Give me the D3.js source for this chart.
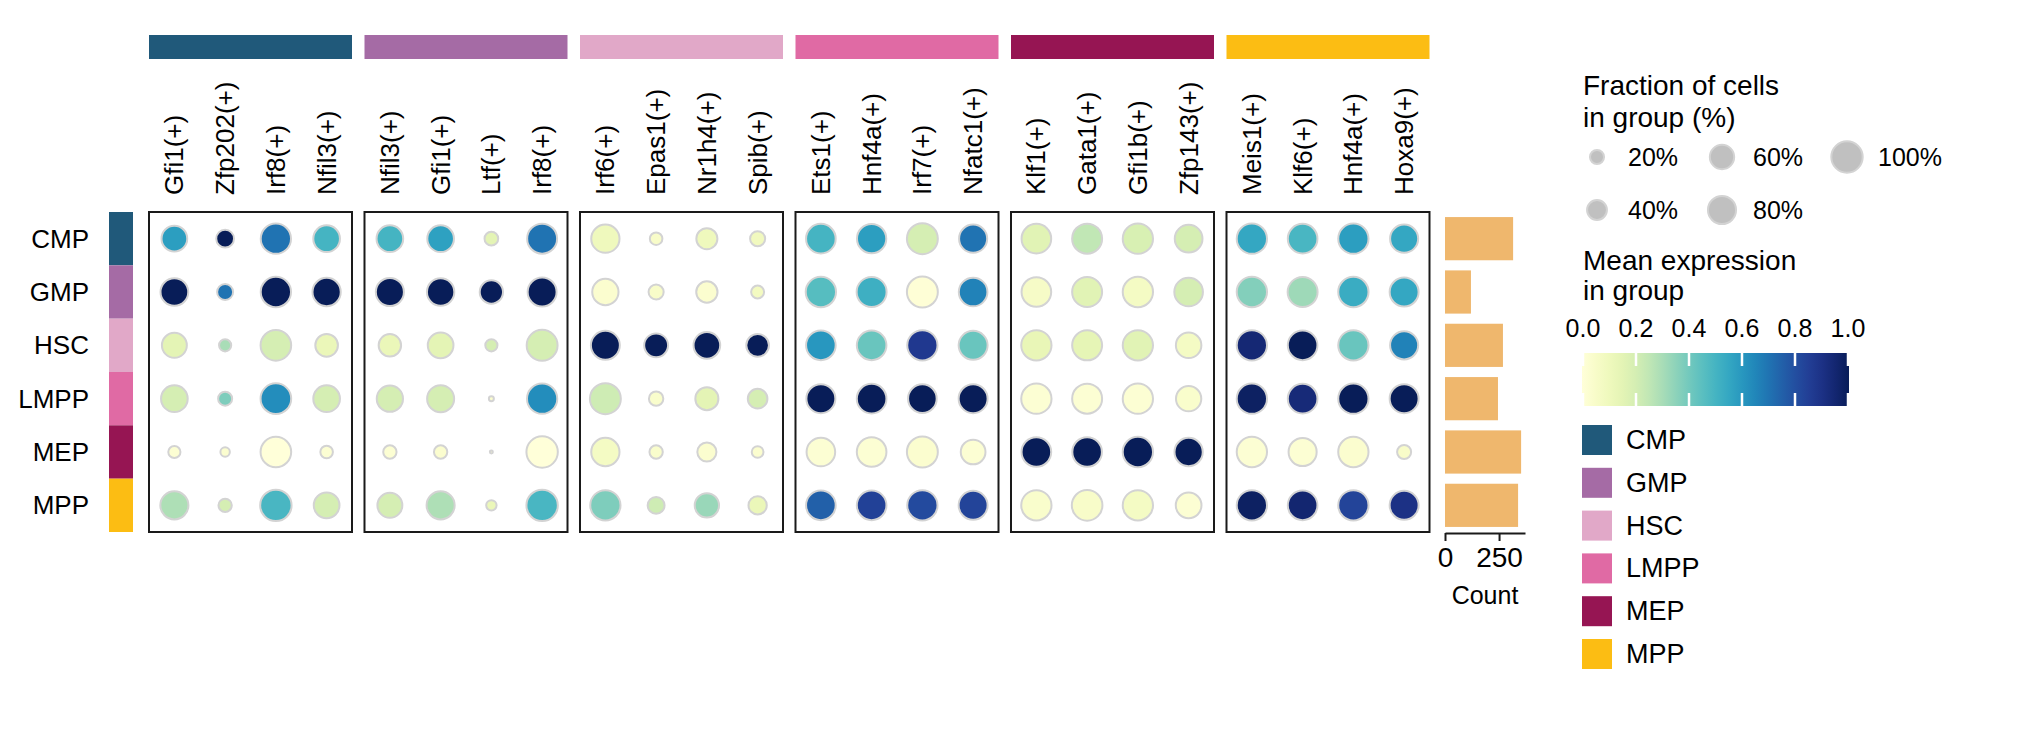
<!DOCTYPE html>
<html lang="en">
<head>
  <meta charset="utf-8">
  <title>Regulon dot plot</title>
  <style>
    body {
      margin: 0;
      background: #fff;
      font-family: 'Liberation Sans', Arial, sans-serif;
    }
    text { fill: #000; }
    .box { fill: none; stroke: #1a1a1a; stroke-width: 2; }
    .dot { stroke: #d3d3d3; stroke-width: 2; }
  </style>
</head>
<body>
  <div id="chart"></div>

  <script src="https://d3js.org/d3.v7.min.js"></script>
  <script>
    // Cell groups (rows, and also the column panels)
    var groups = ["CMP", "GMP", "HSC", "LMPP", "MEP", "MPP"];
    var groupColors = ["#20597a", "#a56ba5", "#e1a8c8", "#e06aa4", "#961553", "#fcbd13"];

    // Regulons, 4 per panel, panel order = groups
    var genes = [
      "Gfi1(+)", "Zfp202(+)", "Irf8(+)", "Nfil3(+)",
      "Nfil3(+)", "Gfi1(+)", "Ltf(+)", "Irf8(+)",
      "Irf6(+)", "Epas1(+)", "Nr1h4(+)", "Spib(+)",
      "Ets1(+)", "Hnf4a(+)", "Irf7(+)", "Nfatc1(+)",
      "Klf1(+)", "Gata1(+)", "Gfi1b(+)", "Zfp143(+)",
      "Meis1(+)", "Klf6(+)", "Hnf4a(+)", "Hoxa9(+)"
    ];

    // Fraction of cells in group (%), one row per group
    var fraction = [
      [67, 32, 93, 72,  72, 72, 19, 91,  81, 16, 45, 23,  89, 87, 97, 80,  89, 91, 93, 78,  93, 89, 93, 80],
      [78, 26, 93, 81,  80, 76, 55, 85,  70, 23, 46, 17,  93, 91, 97, 83,  89, 91, 93, 83,  93, 91, 93, 85],
      [63, 15, 95, 52,  51, 67, 15, 97,  85, 58, 72, 52,  89, 89, 93, 85,  93, 91, 93, 66,  93, 89, 93, 80],
      [72, 20, 95, 72,  70, 74, 2.5, 93, 97, 21, 54, 39,  85, 89, 83, 85,  93, 91, 93, 65,  93, 89, 93, 85],
      [15, 9, 95, 16,   18, 18, 0.9, 100, 81, 18, 37, 14, 83, 89, 97, 62,  89, 89, 93, 81,  93, 80, 93, 20],
      [80, 18, 100, 67, 63, 80, 11, 100, 93, 29, 60, 34,  89, 89, 93, 85,  93, 95, 93, 67,  93, 89, 93, 85]
    ];

    // Mean expression in group (scaled 0-1)
    var expression = [
      [0.58, 1.00, 0.70, 0.50,  0.50, 0.57, 0.15, 0.70,  0.10, 0.05, 0.10, 0.09,  0.50, 0.58, 0.20, 0.70,  0.16, 0.25, 0.19, 0.20,  0.55, 0.49, 0.58, 0.55],
      [1.00, 0.70, 1.00, 1.00,  1.00, 1.00, 1.00, 1.00,  0.03, 0.05, 0.03, 0.08,  0.46, 0.52, 0.01, 0.66,  0.06, 0.16, 0.07, 0.20,  0.37, 0.32, 0.53, 0.55],
      [0.15, 0.30, 0.20, 0.12,  0.12, 0.15, 0.20, 0.20,  1.00, 1.00, 1.00, 1.00,  0.60, 0.42, 0.87, 0.42,  0.13, 0.14, 0.16, 0.07,  0.94, 1.00, 0.42, 0.66],
      [0.20, 0.38, 0.63, 0.20,  0.20, 0.20, 0.03, 0.63,  0.22, 0.04, 0.15, 0.20,  1.00, 1.00, 1.00, 1.00,  0.02, 0.02, 0.02, 0.04,  0.98, 0.93, 1.00, 1.00],
      [0.02, 0.03, 0.00, 0.02,  0.02, 0.03, 0.05, 0.00,  0.07, 0.04, 0.03, 0.03,  0.02, 0.02, 0.03, 0.02,  1.00, 1.00, 1.00, 1.00,  0.02, 0.02, 0.03, 0.05],
      [0.29, 0.20, 0.49, 0.20,  0.20, 0.29, 0.12, 0.49,  0.38, 0.22, 0.33, 0.12,  0.75, 0.84, 0.81, 0.83,  0.04, 0.05, 0.07, 0.02,  0.98, 0.95, 0.83, 0.90]
    ];

    // Cells per group
    var counts = [315, 120, 268, 245, 352, 338];

    // Legend / axis ticks
    var sizeTicks = [20, 40, 60, 80, 100];
    var colorTicks = [0, 0.2, 0.4, 0.6, 0.8, 1.0];
    var countTicks = [0, 250];

    var width = 2019, height = 745;
    var genesPerPanel = 4;

    var svg = d3.select("#chart").append("svg")
      .attr("width", width)
      .attr("height", height);

    // Scales
    var panelX = d3.scaleBand().domain(groups).range([149, 1429.5]).paddingInner(0.058);
    var colX = d3.scaleBand().domain(d3.range(genesPerPanel)).range([0, panelX.bandwidth()]);
    var rowY = d3.scaleBand().domain(groups).range([212, 532]);
    var radius = d3.scaleSqrt().domain([0, 100]).range([0, 15.7]);
    var color = d3.scaleSequential(d3.interpolateYlGnBu).domain([0, 1]);

    function geneX(i) {
      var p = groups[Math.floor(i / genesPerPanel)];
      return panelX(p) + colX(i % genesPerPanel) + colX.bandwidth() / 2;
    }

    // Top group bars
    svg.append("g").selectAll("rect")
      .data(groups)
      .join("rect")
      .attr("x", function(d) { return panelX(d); })
      .attr("y", 35)
      .attr("width", panelX.bandwidth())
      .attr("height", 24)
      .attr("fill", function(d, i) { return groupColors[i]; });

    // Gene labels
    svg.append("g").selectAll("text")
      .data(genes)
      .join("text")
      .attr("transform", function(d, i) { return "translate(" + geneX(i) + ",195) rotate(-90)"; })
      .attr("dominant-baseline", "central")
      .style("font-size", "26px")
      .text(function(d) { return d; });

    // Row colour strip and labels
    svg.append("g").selectAll("rect")
      .data(groups)
      .join("rect")
      .attr("x", 109)
      .attr("y", function(d) { return rowY(d); })
      .attr("width", 24)
      .attr("height", rowY.bandwidth())
      .attr("fill", function(d, i) { return groupColors[i]; });

    svg.append("g").selectAll("text")
      .data(groups)
      .join("text")
      .attr("x", 89)
      .attr("y", function(d) { return rowY(d) + rowY.bandwidth() / 2; })
      .attr("text-anchor", "end")
      .attr("dominant-baseline", "central")
      .style("font-size", "26px")
      .text(function(d) { return d; });

    // Dots
    var cells = [];
    groups.forEach(function(g, r) {
      genes.forEach(function(gene, c) {
        cells.push({ row: g, col: c, frac: fraction[r][c], value: expression[r][c] });
      });
    });

    svg.append("g").selectAll("circle")
      .data(cells)
      .join("circle")
      .attr("class", "dot")
      .attr("cx", function(d) { return geneX(d.col); })
      .attr("cy", function(d) { return rowY(d.row) + rowY.bandwidth() / 2; })
      .attr("r", function(d) { return radius(d.frac); })
      .attr("fill", function(d) { return color(d.value); });

    // Panel boxes
    svg.append("g").selectAll("rect")
      .data(groups)
      .join("rect")
      .attr("class", "box")
      .attr("x", function(d) { return panelX(d); })
      .attr("y", 212)
      .attr("width", panelX.bandwidth())
      .attr("height", 320);

    // Count bars
    var countX = d3.scaleLinear().domain([0, 370]).range([1445, 1525]);
    var barY = d3.scaleBand().domain(groups).range([212, 532]).paddingInner(0.19).paddingOuter(0.095);

    svg.append("g").selectAll("rect")
      .data(counts)
      .join("rect")
      .attr("x", countX(0))
      .attr("y", function(d, i) { return barY(groups[i]); })
      .attr("width", function(d) { return countX(d) - countX(0); })
      .attr("height", barY.bandwidth())
      .attr("fill", "#efb76d");

    var countAxis = svg.append("g")
      .attr("transform", "translate(0,533)")
      .call(d3.axisBottom(countX).tickValues(countTicks).tickSize(8).tickSizeOuter(0).tickPadding(6));
    countAxis.select(".domain").attr("stroke-width", 2).attr("stroke", "#1a1a1a");
    countAxis.selectAll(".tick line").attr("stroke-width", 2).attr("stroke", "#1a1a1a");
    countAxis.selectAll("text")
      .style("font-size", "28px")
      .style("font-family", "'Liberation Sans', Arial, sans-serif")
      .attr("fill", "#000");

    svg.append("text")
      .attr("x", 1485)
      .attr("y", 604)
      .attr("text-anchor", "middle")
      .style("font-size", "25px")
      .text("Count");

    // Size legend
    var lg = svg.append("g");
    lg.append("text").attr("x", 1583).attr("y", 95).style("font-size", "28px").text("Fraction of cells");
    lg.append("text").attr("x", 1583).attr("y", 127).style("font-size", "28px").text("in group (%)");

    var sizeItems = lg.selectAll("g.size")
      .data(sizeTicks)
      .join("g")
      .attr("class", "size")
      .attr("transform", function(d, i) {
        return "translate(" + (1597 + Math.floor(i / 2) * 125) + "," + (157 + (i % 2) * 53) + ")";
      });
    sizeItems.append("circle")
      .attr("r", function(d) { return radius(d); })
      .attr("fill", "#c0c0c0")
      .attr("stroke", "#d3d3d3")
      .attr("stroke-width", 2);
    sizeItems.append("text")
      .attr("x", 31)
      .attr("dominant-baseline", "central")
      .style("font-size", "25px")
      .text(function(d) { return d + "%"; });

    // Colour bar legend
    lg.append("text").attr("x", 1583).attr("y", 270).style("font-size", "28px").text("Mean expression");
    lg.append("text").attr("x", 1583).attr("y", 300).style("font-size", "28px").text("in group");

    var cbX = d3.scaleLinear().domain([0, 1]).range([1583, 1848]);
    var grad = svg.append("defs").append("linearGradient").attr("id", "ylgnbu");
    grad.selectAll("stop")
      .data(d3.range(0, 1.0001, 0.05))
      .join("stop")
      .attr("offset", function(d) { return d * 100 + "%"; })
      .attr("stop-color", function(d) { return color(d); });

    lg.append("rect")
      .attr("x", cbX(0) - 1)
      .attr("y", 353)
      .attr("width", cbX(1) - cbX(0) + 2)
      .attr("height", 53)
      .attr("fill", "url(#ylgnbu)");

    colorTicks.forEach(function(t) {
      lg.append("line")
        .attr("x1", cbX(t)).attr("x2", cbX(t))
        .attr("y1", 352).attr("y2", 366)
        .attr("stroke", "#fff").attr("stroke-width", 2.5);
      lg.append("line")
        .attr("x1", cbX(t)).attr("x2", cbX(t))
        .attr("y1", 393).attr("y2", 407)
        .attr("stroke", "#fff").attr("stroke-width", 2.5);
    });

    lg.selectAll("text.cbtick")
      .data(colorTicks)
      .join("text")
      .attr("class", "cbtick")
      .attr("x", function(d) { return cbX(d); })
      .attr("y", 337)
      .attr("text-anchor", "middle")
      .style("font-size", "25px")
      .text(function(d) { return d3.format(".1f")(d); });

    // Group colour legend
    var catItems = lg.selectAll("g.cat")
      .data(groups)
      .join("g")
      .attr("class", "cat")
      .attr("transform", function(d, i) { return "translate(1582," + (425 + i * 42.8) + ")"; });
    catItems.append("rect")
      .attr("width", 30)
      .attr("height", 30)
      .attr("fill", function(d, i) { return groupColors[i]; });
    catItems.append("text")
      .attr("x", 44)
      .attr("y", 15)
      .attr("dominant-baseline", "central")
      .style("font-size", "27px")
      .text(function(d) { return d; });
  </script>
</body>
</html>
